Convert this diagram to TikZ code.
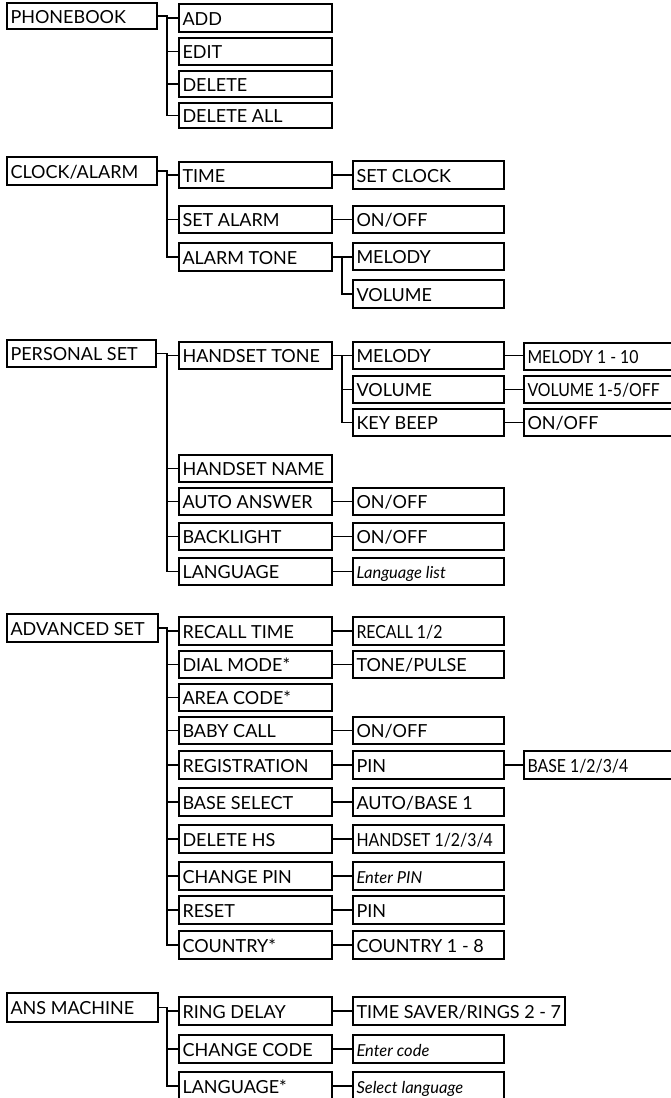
\documentclass[tikz,border=0pt]{standalone}
\usepackage{fontspec}
\setmainfont{Lato}
\newfontfamily\narrowlato{Lato}[FakeStretch=0.88]
\usetikzlibrary{fit}
\tikzset{
 box/.style={draw, line width=1.4pt, inner sep=0pt, rectangle},
 lbl/.style={inner sep=0pt, anchor=base west, font=\fontsize{18}{20}\selectfont},
 nlbl/.style={lbl, font=\narrowlato\fontsize{18}{20}\selectfont},
 ilbl/.style={lbl, font=\fontsize{16.5}{20}\selectfont\itshape},
 conn/.style={line width=1.2pt},
}
\newcommand\mkbox[7][lbl]{%
 \coordinate (#2-nw) at (#3,#5);
 \coordinate (#2-se) at (#4,#6);
 \node[box, fit=(#2-nw)(#2-se)] (#2) {};
 \node[#1] (#2-t) at ([xshift=4pt,yshift=-7pt]#2.west) {#7};
}
\newcommand\onelink[2]{\draw[conn] (#1.east) -- (#1.east -| #2.west);}
\begin{document}
\begin{tikzpicture}[x=1pt,y=-1pt]
\useasboundingbox (0,0) rectangle (670,1098);
\coordinate (b1) at (167,0);
\coordinate (b2) at (342,0);
% PHONEBOOK
\mkbox{pb}{7}{157}{3}{29}{PHONEBOOK}
\mkbox{add}{179}{332}{4}{32}{ADD}
\mkbox{edit}{179}{332}{38}{65}{EDIT}
\mkbox{del}{179}{332}{71}{97}{DELETE}
\mkbox{delall}{179}{332}{103}{128}{DELETE ALL}
\draw[conn] (pb.east) -- (pb.east -| b1) |- (delall.west);
\foreach \c in {add,edit,del} \draw[conn] (\c.west -| b1) -- (\c.west);
% CLOCK/ALARM
\mkbox{ca}{7}{157}{157}{185}{CLOCK/ALARM}
\mkbox{time}{179}{332}{162}{188}{TIME}
\mkbox{setal}{179}{332}{206}{233}{SET ALARM}
\mkbox{altone}{179}{332}{243}{271}{ALARM TONE}
\mkbox{setclock}{353}{504}{161}{189}{SET CLOCK}
\mkbox{alonoff}{353}{504}{206}{233}{ON/OFF}
\mkbox{almel}{353}{504}{243}{270}{MELODY}
\mkbox{alvol}{353}{504}{280}{308}{VOLUME}
\draw[conn] (ca.east) -- (ca.east -| b1) |- (altone.west);
\foreach \c in {time,setal} \draw[conn] (\c.west -| b1) -- (\c.west);
\onelink{time}{setclock}
\onelink{setal}{alonoff}
\draw[conn] (altone.east) -- (altone.east -| almel.west);
\draw[conn] (altone.east -| b2) |- (alvol.west);
% PERSONAL SET
\mkbox{ps}{7}{156}{340}{367}{PERSONAL SET}
\mkbox{hstone}{179}{332}{342}{369}{HANDSET TONE}
\mkbox{hsmel}{353}{504}{342}{369}{MELODY}
\mkbox{hsvol}{353}{504}{376}{403}{VOLUME}
\mkbox{keyb}{353}{504}{409}{436}{KEY BEEP}
\mkbox[nlbl]{mel110}{524}{680}{343}{370}{MELODY 1 - 10}
\mkbox[nlbl]{vol15}{524}{680}{376}{403}{VOLUME 1-5/OFF}
\mkbox{kbonoff}{524}{680}{409}{436}{ON/OFF}
\mkbox{hsname}{179}{332}{455}{482}{HANDSET NAME}
\mkbox{autoans}{179}{332}{488}{515}{AUTO ANSWER}
\mkbox{backl}{179}{332}{523}{550}{BACKLIGHT}
\mkbox{lang}{179}{332}{558}{585}{LANGUAGE}
\mkbox{aaonoff}{353}{504}{488}{515}{ON/OFF}
\mkbox{blonoff}{353}{504}{523}{550}{ON/OFF}
\mkbox[ilbl]{langlist}{353}{504}{558}{585}{Language list}
\draw[conn] (ps.east) -- (ps.east -| b1) |- (lang.west);
\foreach \c in {hstone,hsname,autoans,backl} \draw[conn] (\c.west -| b1) -- (\c.west);
\draw[conn] (hstone.east) -- (hstone.east -| hsmel.west);
\draw[conn] (hstone.east -| b2) |- (keyb.west);
\draw[conn] (hsvol.west -| b2) -- (hsvol.west);
\onelink{hsmel}{mel110}
\onelink{hsvol}{vol15}
\onelink{keyb}{kbonoff}
\onelink{autoans}{aaonoff}
\onelink{backl}{blonoff}
\onelink{lang}{langlist}
% ADVANCED SET
\mkbox{as}{7}{158}{614}{642}{ADVANCED SET}
\mkbox{recall}{179}{332}{617}{645}{RECALL TIME}
\mkbox{dial}{179}{332}{651}{678}{DIAL MODE*}
\mkbox{area}{179}{332}{684}{711}{AREA CODE*}
\mkbox{baby}{179}{332}{717}{744}{BABY CALL}
\mkbox{reg}{179}{332}{751}{779}{REGISTRATION}
\mkbox{basesel}{179}{332}{788}{816}{BASE SELECT}
\mkbox{delhs}{179}{332}{825}{853}{DELETE HS}
\mkbox{chpin}{179}{332}{862}{890}{CHANGE PIN}
\mkbox{reset}{179}{332}{896}{924}{RESET}
\mkbox{country}{179}{332}{931}{959}{COUNTRY*}
\mkbox[nlbl]{recall12}{353}{504}{617}{645}{RECALL 1/2}
\mkbox{tonepulse}{353}{504}{651}{678}{TONE/PULSE}
\mkbox{babyonoff}{353}{504}{717}{744}{ON/OFF}
\mkbox{pinone}{353}{504}{751}{779}{PIN}
\mkbox[nlbl]{base1234}{524}{680}{751}{779}{BASE 1/2/3/4}
\mkbox{autobase}{353}{504}{788}{816}{AUTO/BASE 1}
\mkbox[nlbl]{hs1234}{353}{504}{825}{853}{HANDSET 1/2/3/4}
\mkbox[ilbl]{enterpin}{353}{504}{862}{890}{Enter PIN}
\mkbox{pintwo}{353}{504}{896}{924}{PIN}
\mkbox{country18}{353}{504}{931}{959}{COUNTRY 1 - 8}
\draw[conn] (as.east) -- (as.east -| b1) |- (country.west);
\foreach \c in {recall,dial,area,baby,reg,basesel,delhs,chpin,reset} \draw[conn] (\c.west -| b1) -- (\c.west);
\onelink{recall}{recall12}
\onelink{dial}{tonepulse}
\onelink{baby}{babyonoff}
\onelink{reg}{pinone}
\onelink{pinone}{base1234}
\onelink{basesel}{autobase}
\onelink{delhs}{hs1234}
\onelink{chpin}{enterpin}
\onelink{reset}{pintwo}
\onelink{country}{country18}
% ANS MACHINE
\mkbox{am}{7}{158}{993}{1022}{ANS MACHINE}
\mkbox{ring}{179}{332}{997}{1025}{RING DELAY}
\mkbox{chcode}{179}{332}{1035}{1063}{CHANGE CODE}
\mkbox{langtwo}{179}{332}{1072}{1100}{LANGUAGE*}
\mkbox{timesaver}{353}{565}{997}{1025}{TIME SAVER/RINGS 2 - 7}
\mkbox[ilbl]{entercode}{353}{504}{1035}{1063}{Enter code}
\mkbox[ilbl]{sellang}{353}{504}{1072}{1100}{Select language}
\draw[conn] (am.east) -- (am.east -| b1) |- (langtwo.west);
\foreach \c in {ring,chcode} \draw[conn] (\c.west -| b1) -- (\c.west);
\onelink{ring}{timesaver}
\onelink{chcode}{entercode}
\onelink{langtwo}{sellang}
\end{tikzpicture}
\end{document}
